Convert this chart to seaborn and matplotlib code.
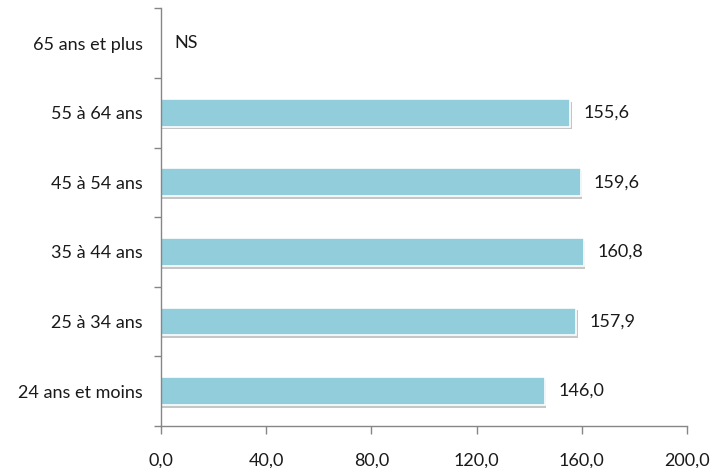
import numpy as np
import pandas as pd
import matplotlib
matplotlib.use("Agg")
import matplotlib.pyplot as plt
import matplotlib.patheffects as pe
from matplotlib.ticker import FixedLocator, FuncFormatter
import seaborn as sns

# --------------------------------------------
# DATA
# --------------------------------------------
categories = ["65 ans et plus", "55 à 64 ans", "45 à 54 ans",
              "35 à 44 ans", "25 à 34 ans", "24 ans et moins"]
values = [np.nan, 155.6, 159.6, 160.8, 157.9, 146.0]
bar_labels = ["NS", "155,6", "159,6", "160,8", "157,9", "146,0"]
x_ticks = [0, 40, 80, 120, 160, 200]

df = pd.DataFrame({"Tranche": categories, "Valeur": values})

sns.set_style("white")
plt.rcParams["font.family"] = ["Lato", "DejaVu Sans"]

fig = plt.figure(figsize=(7.15, 4.68), dpi=100)
ax = fig.add_axes([0.225, 0.09, 0.736, 0.892])

sns.barplot(data=df, x="Valeur", y="Tranche",
            order=categories, orient="h", color="#92CDDC", saturation=1,
            width=0.4, edgecolor="white", linewidth=1.2, ax=ax)

# soft shadow like the office chart
for bar in ax.patches:
    bar.set_path_effects([pe.SimplePatchShadow(offset=(1, -2),
                                               shadow_rgbFace="#a0a0a0",
                                               alpha=0.6),
                          pe.Normal()])

# value labels
for i, (v, lab) in enumerate(zip(values, bar_labels)):
    xpos = 5 if np.isnan(v) else v + 5
    ax.text(xpos, i, lab, va="center", ha="left", fontsize=13, color="#1a1a1a")

# --------------------------------------------
# AXES
# --------------------------------------------
ax.set_xlim(0, 200)
ax.set_ylim(5.5, -0.5)
ax.set_xticks(x_ticks)
ax.xaxis.set_major_formatter(FuncFormatter(lambda v, p: f"{v:.1f}".replace(".", ",")))
ax.yaxis.set_minor_locator(FixedLocator(np.arange(-0.5, 6, 1)))
ax.tick_params(axis="y", which="major", length=0, labelsize=13, pad=13,
               labelcolor="#1a1a1a")
ax.tick_params(axis="y", which="minor", length=5, width=1, color="#868686", left=True)
ax.tick_params(axis="x", length=6, width=1, color="#868686", bottom=True,
               labelsize=13, labelcolor="#1a1a1a", pad=13)
ax.set_xlabel("")
ax.set_ylabel("")

for s in ["top", "right"]:
    ax.spines[s].set_visible(False)
for s in ["left", "bottom"]:
    ax.spines[s].set_color("#868686")
    ax.spines[s].set_linewidth(1)

fig.savefig("out.png", dpi=100)
